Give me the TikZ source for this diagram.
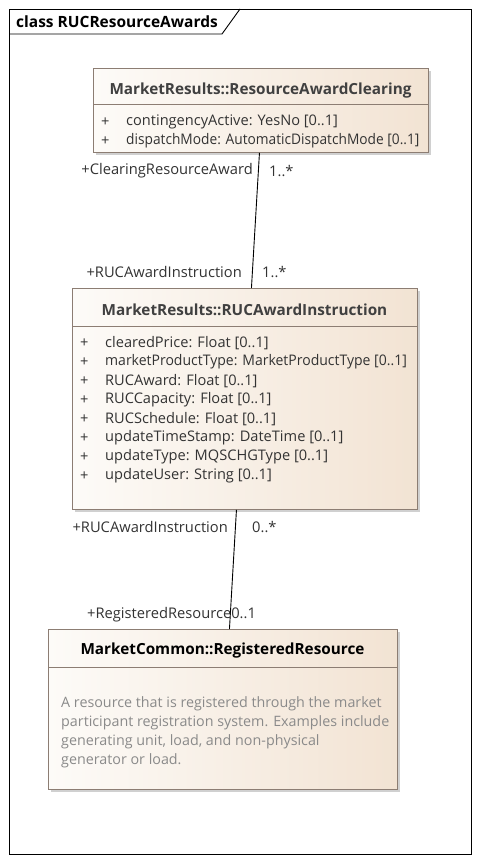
\documentclass[tikz,border=0pt]{standalone}
\usepackage{fontspec}
\setmainfont{Open Sans}
\usetikzlibrary{shadows,calc}
\definecolor{boxline}{HTML}{8C7D73}
\definecolor{boxleft}{HTML}{FDFBF8}
\definecolor{boxright}{HTML}{F2E3D3}
\definecolor{titlegray}{HTML}{404040}
\definecolor{attrgray}{HTML}{333333}
\definecolor{notegray}{HTML}{8A8A8A}
\tikzset{
  classbox/.style={draw=boxline, line width=0.9pt, left color=boxleft, right color=boxright,
    anchor=north west, inner sep=0pt,
    drop shadow={shadow xshift=3pt, shadow yshift=-3pt, fill=black!30, opacity=0.6}},
  sepline/.style={draw=boxline, line width=0.8pt},
  ctitle/.style={font=\bfseries\fontsize{15.3}{17}\selectfont, text=titlegray, inner sep=0pt, yshift=-1.5pt},
  attr/.style={font=\fontsize{14.6}{17}\selectfont, text=attrgray, anchor=west, inner sep=0pt, yshift=-2pt},
  rolelbl/.style={font=\fontsize{14.7}{17}\selectfont, text=attrgray, inner sep=0pt, yshift=-2pt},
  note/.style={font=\fontsize{14.3}{19}\selectfont, text=notegray, anchor=north west, inner sep=0pt, align=left},
  assoc/.style={draw=black, line width=0.9pt},
}
\newcommand{\squeezeto}[2]{\scalebox{#1}[1]{#2}}
\begin{document}
\begin{tikzpicture}[x=1pt,y=-1pt]
\useasboundingbox (0,0) rectangle (479,862);
\fill[white] (0,0) rectangle (479,862);
% frame
\node[draw=black, line width=0.9pt, minimum width=462pt, minimum height=845pt, anchor=north west, inner sep=0pt] (frame) at (9,9) {};
\draw[line width=0.9pt] (9,34) -- (222,34) -- (240,9);
\node[font=\bfseries\fontsize{15.5}{17}\selectfont, anchor=west, inner sep=0pt, yshift=-0.5pt] (ftitle) at (16,21) {class RUCResourceAwards};

% box 1
\node[classbox, minimum width=335pt, minimum height=84pt] (rac) at (93,68) {};
\draw[sepline] (93,104) -- (428,104);
\node[ctitle] (racT) at (260.5,89) {MarketResults::ResourceAwardClearing};
\node[attr] (racP1) at (101,120) {+};
\node[attr] (racA1) at (126,120) {contingencyActive: YesNo [0..1]};
\node[attr] (racP2) at (101,139) {+};
\node[attr] (racA2) at (126,139) {\squeezeto{0.94}{dispatchMode: AutomaticDispatchMode [0..1]}};

% box 2
\node[classbox, minimum width=345pt, minimum height=221pt] (ruc) at (72,288) {};
\draw[sepline] (72,326) -- (417,326);
\node[ctitle] (rucT) at (244.5,308) {MarketResults::RUCAwardInstruction};
\foreach \i/\t in {1/{clearedPrice: Float [0..1]},
                   2/{\squeezeto{0.96}{marketProductType: MarketProductType [0..1]}},
                   3/{RUCAward: Float [0..1]},
                   4/{RUCCapacity: Float [0..1]},
                   5/{RUCSchedule: Float [0..1]},
                   6/{updateTimeStamp: DateTime [0..1]},
                   7/{updateType: MQSCHGType [0..1]},
                   8/{updateUser: String [0..1]}}{
  \node[attr] (rucP\i) at (80,{341+(\i-1)*19}) {+};
  \node[attr] (rucA\i) at (105,{341+(\i-1)*19}) {\t};
}

% box 3
\node[classbox, minimum width=349pt, minimum height=160pt] (rr) at (48,629) {};
\draw[sepline] (48,667) -- (397,667);
\node[ctitle, text=black] (rrT) at (222.5,649) {MarketCommon::RegisteredResource};
\node[note] (rrN) at (61,696) {A resource that is registered through the market\\participant registration system. Examples include\\generating unit, load, and non-physical\\generator or load.};

% associations
\draw[assoc] ([xshift=-1.5pt]rac.south) -- ([xshift=6.5pt]ruc.north);
\draw[assoc] ([xshift=-8.5pt]ruc.south) -- ([xshift=6.5pt]rr.north);

% role labels
\node[rolelbl, anchor=east] (l1a) at (253,169) {+ClearingResourceAward};
\node[rolelbl, anchor=west] (l1b) at (269,169) {1..*};
\node[rolelbl, anchor=east] (l2a) at (242,270) {+RUCAwardInstruction};
\node[rolelbl, anchor=west] (l2b) at (262,270) {1..*};
\node[rolelbl, anchor=east] (l3a) at (228,525) {+RUCAwardInstruction};
\node[rolelbl, anchor=west] (l3b) at (252,525) {0..*};
\node[rolelbl, anchor=west] (l4a) at (87,613) {+RegisteredResource0..1};
\end{tikzpicture}
\end{document}
